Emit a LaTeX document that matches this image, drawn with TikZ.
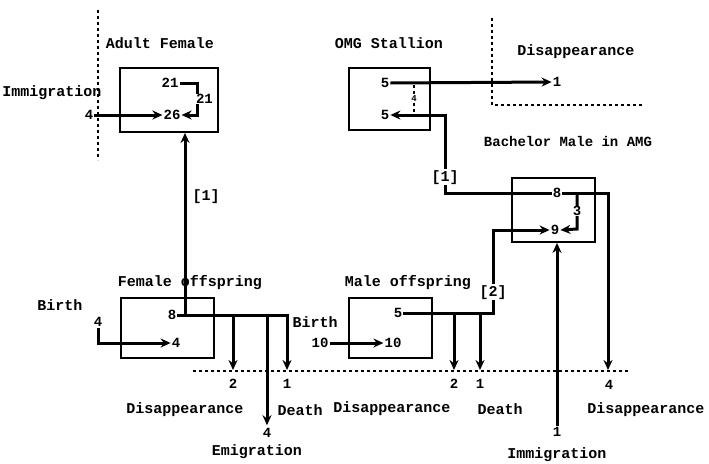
\documentclass[tikz,border=0pt]{standalone}
\usepackage{fontspec}
\setmainfont{Liberation Mono}
\usetikzlibrary{arrows.meta,calc}
\begin{document}
\begin{tikzpicture}[x=1pt,y=-1pt,
  lbl/.style={font=\fontsize{15}{15}\selectfont\bfseries, inner sep=0pt},
  num/.style={font=\fontsize{14}{14}\selectfont\bfseries, inner sep=1pt},
  onl/.style={font=\fontsize{14}{14}\selectfont\bfseries, fill=white, inner sep=0.5pt},
  boxn/.style={draw, line width=1.8pt, inner sep=0pt},
  flow/.style={line width=3pt, -{Stealth[length=10pt,width=9pt]}},
  bnd/.style={line width=1.6pt, dash pattern=on 2.5pt off 3.5pt},
]
\useasboundingbox (0,0) rectangle (709,463);

% boundary lines
\draw[bnd] (98,10) -- (98,160);
\draw[bnd] (193,371) -- (628,371);
\draw[bnd] (492,18) -- (492,105) -- (642,105);

% titles
\node[lbl] (tAF) at (160,43) {Adult Female};
\node[lbl] (tOMG) at (389,43) {OMG Stallion};
\node[lbl] (tDisT) at (576,52) {Disappearance};
\node[lbl, font=\fontsize{14}{14}\selectfont\bfseries] (tBM) at (568,141) {Bachelor Male in AMG};
\node[lbl] (tFO) at (190,283) {Female offspring};
\node[lbl] (tMO) at (408,283) {Male offspring};
\node[lbl] (tImmL) at (52,93) {Immigration};
\node[lbl] (tBirthL) at (60,305) {Birth};
\node[lbl] (tBirthM) at (315,322) {Birth};
\node[lbl] (tDisL) at (185,410) {Disappearance};
\node[lbl] (tDeathL) at (300,410) {Death};
\node[lbl] (tEmi) at (257,452) {Emigration};
\node[lbl] (tDisM) at (392,409) {Disappearance};
\node[lbl] (tDeathM) at (500,409) {Death};
\node[lbl] (tDisR) at (646,410) {Disappearance};
\node[lbl] (tImmR) at (557,455) {Immigration};

% boxes
\node[boxn, minimum width=98pt, minimum height=64pt] (afbox) at (169,100) {};
\node[boxn, minimum width=81pt, minimum height=62pt] (ombox) at (389.5,99) {};
\node[boxn, minimum width=83pt, minimum height=64pt] (bmbox) at (553.5,210) {};
\node[boxn, minimum width=93pt, minimum height=60pt] (fobox) at (167.5,328) {};
\node[boxn, minimum width=83pt, minimum height=60pt] (mobox) at (390.5,328) {};

% numbers
\node[num] (af21) at (170,83) {21};
\node[num] (af26) at (172,115) {26};
\node[num] (imm4) at (89,115) {4};
\node[num] (om5a) at (385,83) {5};
\node[num] (om5b) at (385,115) {5};
\node[num] (dis1) at (557,82) {1};
\node[num] (bm8) at (557,193) {8};
\node[num] (bm9) at (555,230) {9};
\node[num] (fo8) at (172,315) {8};
\node[num] (fo4) at (176,343) {4};
\node[num] (b4) at (98,322) {4};
\node[num] (mo5) at (398,313) {5};
\node[num] (mo10) at (393,343) {10};
\node[num] (b10) at (320,343) {10};
\node[num] (nF2) at (233,384) {2};
\node[num] (nF1) at (287,384) {1};
\node[num] (nF4) at (267,433) {4};
\node[num] (nM2) at (454,384) {2};
\node[num] (nM1) at (480,384) {1};
\node[num] (nR4) at (609,385) {4};
\node[num] (im1) at (557,432) {1};

% coordinates
\coordinate (afc) at (197,83);
\coordinate (fup) at (185,315);
\coordinate (fb2) at (233,315);
\coordinate (fe) at (267,315);
\coordinate (fc) at (287,315);
\coordinate (mb2) at (454,313);
\coordinate (mb1) at (480,313);
\coordinate (mc) at (493,313);
\coordinate (mt) at (493,230);
\coordinate (bc) at (445,193);
\coordinate (bs) at (577,193);
\coordinate (bd) at (577,229);
\coordinate (rc) at (608,193);
\coordinate (ylin) at (0,370);

% Adult female
\draw[flow] (imm4.east) -- (af26.west);
\draw[flow] (af21.east) -- (afc) -- node[onl, right=-3pt]{21} (afc |- af26) -- (af26.east);

% Female offspring
\draw[flow] (b4.south) |- (fo4.west);
\draw[flow] (fo8.east) -- (fc) -- (fc |- ylin);
\draw[flow] (fup) -- node[lbl, right=6pt, pos=0.65]{[1]} (fup |- afbox.south);
\draw[flow] (fb2) -- (fb2 |- ylin);
\draw[flow] (fe) -- ($(nF4.north)+(0,-2)$);

% Male offspring
\draw[flow] (b10.east) -- (mo10.west);
\draw[flow] (mo5.east) -- (mc) -- node[lbl, fill=white, inner sep=1pt, pos=0.25]{[2]} (mt) -- (bm9.west);
\draw[flow] (mb2) -- (mb2 |- ylin);
\draw[flow] (mb1) -- (mb1 |- ylin);

% OMG stallion
\draw[flow] (om5a.east) -- (dis1.west);
\draw[line width=1.8pt, dash pattern=on 3pt off 3pt] (414,85) -- node[fill=white, inner sep=0pt, font=\fontsize{9}{9}\selectfont\bfseries]{4} (414,113);
\draw[flow] (bm8.west) -- (bc) -- node[lbl, fill=white, inner sep=1pt, pos=0.2]{[1]} (bc |- om5b) -- (om5b.east);

% Bachelor
\draw[flow] (bm8.east) -- (rc) -- (rc |- ylin);
\draw[flow] (bs) -- node[onl]{3} (bd) -- (bm9.east);
\draw[flow] (im1.north) -- (im1 |- bmbox.south);

\end{tikzpicture}
\end{document}
